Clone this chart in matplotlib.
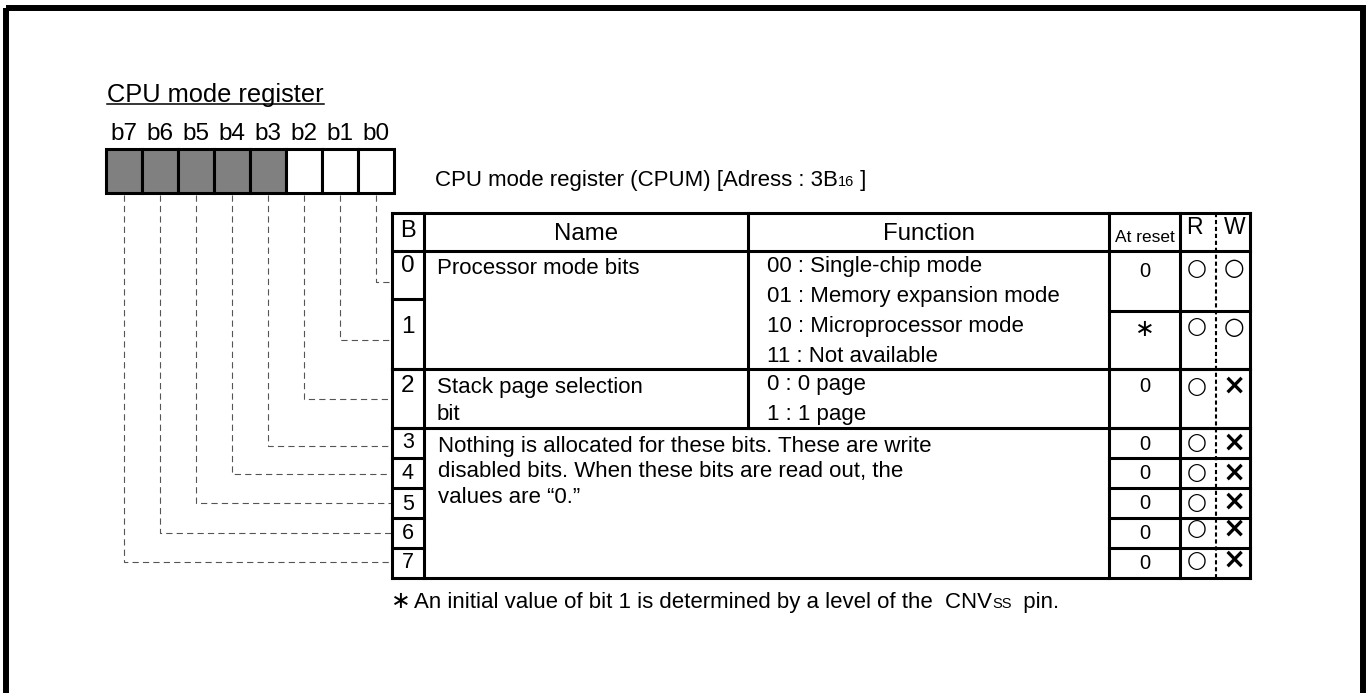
import matplotlib
matplotlib.use("Agg")
import matplotlib.pyplot as plt
from matplotlib.patches import Rectangle

plt.rcParams['font.family'] = ['Liberation Sans', 'DejaVu Sans']
plt.rcParams['lines.scale_dashes'] = False

# ---- register contents ----
title = 'CPU mode register'
bit_labels = ['b7', 'b6', 'b5', 'b4', 'b3', 'b2', 'b1', 'b0']
unused_bits = [7, 6, 5, 4, 3]          # shaded cells
reg_caption = ['CPU mode register (CPUM) [Adress : 3B', '16', ' ]']

header = ['B', 'Name', 'Function', 'At reset', 'R', 'W']
bit_numbers = ['0', '1', '2', '3', '4', '5', '6', '7']
name_texts = ['Processor mode bits',
              'Stack page selection\nbit',
              'Nothing is allocated for these bits. These are write\n'
              'disabled bits. When these bits are read out, the\n'
              'values are \u201c0.\u201d']
function_mode = ['00 : Single-chip mode', '01 : Memory expansion mode',
                 '10 : Microprocessor mode', '11 : Not available']
function_stack = ['0 : 0 page', '1 : 1 page']
at_reset = ['0', '\u2217', '0', '0', '0', '0', '0', '0']
read_ok = ['\u25cb'] * 8
write_ok = ['\u25cb', '\u25cb', '\u00d7', '\u00d7', '\u00d7', '\u00d7', '\u00d7', '\u00d7']
footnote = ['An initial value of bit 1 is determined by a level of the  CNV', 'SS', '  pin.']

# ---- layout (pixel space) ----
reg_x0, reg_w, reg_y0, reg_y1 = 106, 36, 149, 193
tab_top, head_bot = 213, 251
col_x = [392, 424, 748, 1109, 1180, 1250]
rw_split = 1216
b_rows = [251, 299, 369, 428, 458, 488, 518, 548, 578]
r_rows = [251, 311, 369, 428, 458, 488, 518, 548, 578]
link_y = [282, 340, 399, 446, 474, 503, 533, 562]
b_base = [272, 333, 392, 448, 479, 510, 539, 568]
r_base = [277, 337, 392, 450, 479, 509, 539, 569]
mark_y = [268, 327, 386, 443, 473, 502, 529, 560]

BODY = 16
STAR_FONT = ['Noto Sans CJK JP', 'DejaVu Sans']

fig = plt.figure(figsize=(13.7, 6.93), dpi=100)
ax = fig.add_axes([0, 0, 1, 1])
ax.set_xlim(0, 1370)
ax.set_ylim(693, 0)
ax.axis('off')
renderer = fig.canvas.get_renderer()

LW = 2.2
k = 'black'


def run_text(x, y, pieces, sizes):
    # place text pieces one after the other on a common baseline
    for s, fs in zip(pieces, sizes):
        t = ax.text(x, y, s, fontsize=fs, va='baseline', ha='left')
        bb = t.get_window_extent(renderer)
        x = ax.transData.inverted().transform((bb.x1, bb.y0))[0]


# page frame
ax.add_patch(Rectangle((6.5, 8), 1356.5, 720, fill=False, lw=4.3, ec=k))

# title
ax.text(107, 102, title, fontsize=18.3, va='baseline')
tb = ax.texts[-1].get_window_extent(renderer)
tx1 = ax.transData.inverted().transform((tb.x1, 0))[0]
ax.plot([107, tx1], [104, 104], color=k, lw=1.1)

# register cells
for i, lbl in enumerate(bit_labels):
    bit = 7 - i
    x = reg_x0 + i * reg_w
    fc = '#808080' if bit in unused_bits else 'white'
    ax.add_patch(Rectangle((x, reg_y0), reg_w, reg_y1 - reg_y0, fc=fc, ec=k, lw=LW, zorder=3))
    ax.text(x + reg_w / 2, 140, lbl, fontsize=17.5, ha='center', va='baseline')

run_text(435, 186, reg_caption, [BODY, 10.5, BODY])

# dashed leader lines from each bit to its row
for i in range(8):
    bit = 7 - i
    cx = reg_x0 + i * reg_w + reg_w / 2
    ax.plot([cx, cx, col_x[0]], [reg_y1 + 2, link_y[bit], link_y[bit]],
            color='#555555', lw=0.8, dashes=(4.5, 3))

# table grid
for y in [tab_top, head_bot, b_rows[2], b_rows[3], b_rows[-1]]:
    ax.plot([col_x[0], col_x[-1]], [y, y], color=k, lw=LW, solid_capstyle='projecting')
for y in b_rows[1:-1]:
    ax.plot([col_x[0], col_x[1]], [y, y], color=k, lw=LW)
for y in r_rows[1:-1]:
    ax.plot([col_x[3], col_x[-1]], [y, y], color=k, lw=LW)
for x in col_x:
    ax.plot([x, x], [tab_top, b_rows[-1]] if x != col_x[2] else [tab_top, b_rows[3]],
            color=k, lw=LW, solid_capstyle='projecting')
ax.plot([rw_split, rw_split], [tab_top, b_rows[-1]], color=k, lw=1.5, dashes=(3, 2))

# header
ax.text(408, 237, header[0], fontsize=17, ha='center', va='baseline')
ax.text((col_x[1] + col_x[2]) / 2, 240, header[1], fontsize=17.3, ha='center', va='baseline')
ax.text((col_x[2] + col_x[3]) / 2, 240, header[2], fontsize=17.3, ha='center', va='baseline')
ax.text((col_x[3] + col_x[4]) / 2, 242, header[3], fontsize=12.5, ha='center', va='baseline')
ax.text(1194, 234, header[4], fontsize=16.5, ha='center', va='baseline')
ax.text(1235, 234, header[5], fontsize=16.5, ha='center', va='baseline')

# bit numbers
for i, s in enumerate(bit_numbers):
    ax.text(408, b_base[i], s, fontsize=17.5 if i < 3 else 15.5, ha='center', va='baseline')

# names
ax.text(437, 274, name_texts[0], fontsize=BODY, va='baseline')
for j, line in enumerate(name_texts[1].split('\n')):
    ax.text(437, 393 + 27 * j, line, fontsize=BODY, va='baseline')
for j, line in enumerate(name_texts[2].split('\n')):
    ax.text(438, 452 + 25.5 * j, line, fontsize=BODY, va='baseline')

# functions
for j, line in enumerate(function_mode):
    ax.text(767, 272 + 30 * j, line, fontsize=BODY, va='baseline')
for j, line in enumerate(function_stack):
    ax.text(767, 390 + 30 * j, line, fontsize=BODY, va='baseline')

# at reset, R, W
rc = (col_x[3] + col_x[4]) / 2
for i in range(8):
    if at_reset[i] == '\u2217':
        ax.text(rc, 330, at_reset[i], fontsize=17, ha='center', va='center', family=STAR_FONT)
    else:
        ax.text(rc, r_base[i], at_reset[i], fontsize=14.5, ha='center', va='baseline')
    ax.text(1197, mark_y[i], read_ok[i], fontsize=16.5, ha='center', va='center',
            family='DejaVu Sans')
    is_circle = write_ok[i] == '\u25cb'
    ax.text(1234, mark_y[i], write_ok[i], fontsize=17 if is_circle else 20,
            ha='center', va='center', family='DejaVu Sans',
            fontweight='normal' if is_circle else 'bold')

# footnote
ax.text(401, 602, '\u2217', fontsize=17, ha='center', va='center', family=STAR_FONT)
run_text(414, 608, footnote, [BODY, 10.5, BODY])

fig.savefig('out.png', dpi=100)
